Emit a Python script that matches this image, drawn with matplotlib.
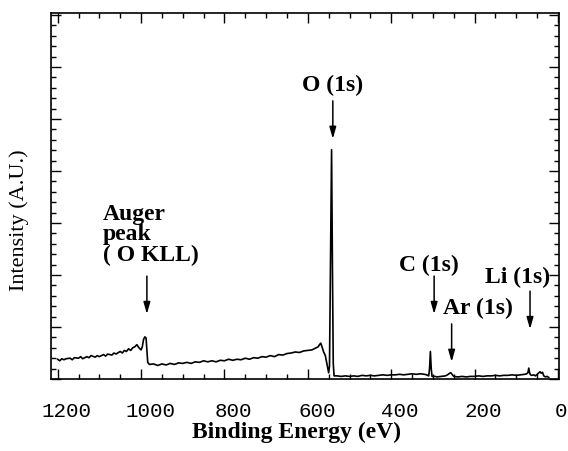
import matplotlib
matplotlib.use("Agg")
import matplotlib.pyplot as plt
from matplotlib.ticker import MultipleLocator
from matplotlib.transforms import ScaledTranslation

# XPS survey spectrum (binding energy in eV, intensity in a.u.)
energy = [1200, 1195, 1190, 1185, 1180, 1170, 1165, 1160, 1150, 1145, 1140, 1130, 1125,
          1120, 1110, 1105, 1100, 1090, 1085, 1080, 1070, 1065, 1060, 1050, 1045, 1040,
          1035, 1030, 1025, 1020, 1015, 1010, 1005, 1000, 997, 994, 991, 988, 986, 984,
          980, 970, 960, 950, 940, 930, 920, 910, 900, 890, 880, 870, 860, 850, 840, 830,
          820, 810, 800, 790, 780, 770, 760, 750, 740, 730, 720, 710, 700, 690, 680, 670,
          660, 650, 640, 630, 620, 610, 600, 590, 585, 580, 575, 572, 569, 566, 562, 558,
          554, 550, 548, 546, 543, 541, 539, 537, 530, 520, 510, 500, 490, 480, 470, 460,
          450, 440, 430, 420, 410, 400, 390, 380, 370, 360, 350, 340, 330, 320, 315, 310,
          308, 306, 304, 302, 295, 290, 280, 270, 265, 260, 257, 254, 250, 240, 230, 220,
          210, 200, 190, 180, 170, 160, 150, 140, 130, 120, 110, 100, 90, 80, 75, 72, 70,
          68, 66, 62, 58, 54, 50, 46, 43, 40, 37, 34, 30, 26, 22]
intensity = [0.38, 0.35, 0.39, 0.37, 0.39, 0.40, 0.37, 0.41, 0.40, 0.43, 0.39, 0.43, 0.41,
             0.45, 0.42, 0.45, 0.43, 0.47, 0.44, 0.48, 0.46, 0.50, 0.48, 0.53, 0.50, 0.55,
             0.53, 0.58, 0.55, 0.60, 0.62, 0.66, 0.60, 0.56, 0.62, 0.76, 0.81, 0.79, 0.55, 0.32,
             0.28, 0.29, 0.26, 0.29, 0.27, 0.30, 0.28, 0.31, 0.30, 0.32, 0.30, 0.33, 0.32, 0.35,
             0.33, 0.35, 0.33, 0.36, 0.35, 0.38, 0.36, 0.38, 0.37, 0.40, 0.38, 0.41, 0.40, 0.43,
             0.42, 0.45, 0.43, 0.47, 0.46, 0.49, 0.50, 0.52, 0.51, 0.54, 0.55, 0.56, 0.58, 0.60,
             0.62, 0.66, 0.69, 0.62, 0.52, 0.45, 0.28, 0.12, 0.25, 2.0, 4.41, 2.2, 0.3, 0.06,
             0.06, 0.05, 0.06, 0.05, 0.06, 0.05, 0.07, 0.06, 0.07, 0.06, 0.07, 0.08, 0.07, 0.08,
             0.08, 0.09, 0.08, 0.09, 0.10, 0.09, 0.10, 0.09, 0.08, 0.06, 0.2, 0.53, 0.2, 0.05,
             0.05, 0.04, 0.05, 0.06, 0.08, 0.11, 0.12, 0.09, 0.05, 0.04, 0.05, 0.04, 0.05, 0.05,
             0.06, 0.05, 0.06, 0.06, 0.07, 0.06, 0.07, 0.07, 0.08, 0.07, 0.08, 0.09, 0.10, 0.12,
             0.21, 0.12, 0.08, 0.07, 0.08, 0.06, 0.09, 0.12, 0.14, 0.11, 0.13, 0.06, 0.04, 0.05,
             0.03]

# peak labels: text, text position (eV, a.u.), arrow x, arrow top, arrow tip
peak_labels = ["Auger\npeak\n( O KLL)", "O (1s)", "C (1s)", "Ar (1s)", "Li (1s)"]
label_x = [1091, 540, 310, 192, 98]
label_y = [2.79, 5.67, 2.21, 1.38, 1.98]
label_ha = ["left", "center", "center", "center", "center"]
arrow_x = [986, 540, 297, 255, 67]
arrow_top = [1.98, 5.35, 1.98, 1.06, 1.69]
arrow_tip = [1.25, 4.62, 1.25, 0.33, 0.96]

xticks = [1200, 1000, 800, 600, 400, 200, 0]

fig = plt.figure(figsize=(5.68, 4.52), dpi=100)
ax = fig.add_axes([51/568, 1 - 380/452, 508/568, 366/452])

ax.plot(energy, intensity, color="black", lw=1.2)

ax.set_xlim(1216, -2.5)
ax.set_ylim(0, 7.04)
ax.set_xticks(xticks)
ax.xaxis.set_minor_locator(MultipleLocator(50))
ax.yaxis.set_major_locator(MultipleLocator(1))
ax.yaxis.set_minor_locator(MultipleLocator(0.2))
ax.set_yticklabels([])
ax.tick_params(which="both", direction="in", top=True, right=True, width=1)
ax.tick_params(which="major", length=7)
ax.tick_params(which="minor", length=3.5)
ax.tick_params(axis="x", pad=16, labelsize=15)
labels = ax.get_xticklabels()
for i, lab in enumerate(labels):
    lab.set_fontfamily("Liberation Mono")
    shift = 9 if i < len(labels) - 1 else 3
    lab.set_transform(lab.get_transform() + ScaledTranslation(shift/100, 0, fig.dpi_scale_trans))
for sp in ax.spines.values():
    sp.set_linewidth(1.2)

for txt, tx, ty, ha, ax_x, a0, a1 in zip(peak_labels, label_x, label_y, label_ha,
                                         arrow_x, arrow_top, arrow_tip):
    ax.text(tx, ty, txt, ha=ha, va="center", fontsize=17, fontweight="bold",
            family="Liberation Serif", linespacing=0.95)
    ax.annotate("", xy=(ax_x, a1), xytext=(ax_x, a0),
                arrowprops=dict(arrowstyle="-|>,head_length=0.7,head_width=0.2",
                                color="black", lw=1.1, shrinkA=0, shrinkB=0))

fig.text(297/568, 1 - 422/452, "Binding Energy (eV)", ha="center", va="top",
         fontsize=17, fontweight="bold", family="Liberation Serif")
fig.text(19.5/568, 1 - 220/452, "Intensity (A.U.)", ha="center", va="center",
         rotation=90, fontsize=16, family="Liberation Serif")

fig.savefig("out.png", dpi=100)
